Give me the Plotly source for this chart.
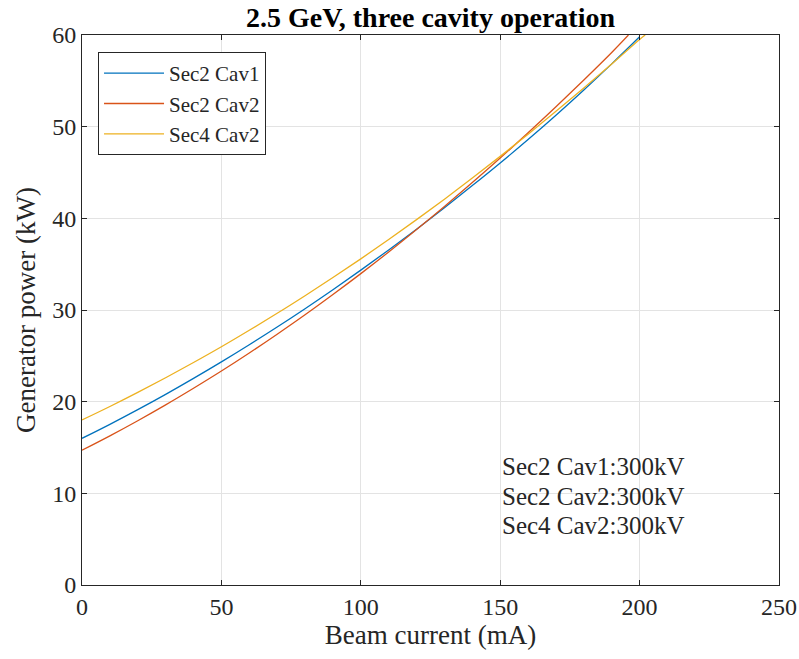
import plotly.graph_objects as go

# Beam current (mA) sample points and generator power (kW)
x_cav1 = [0, 10, 20, 30, 40, 50, 60, 70, 80, 90, 100, 110, 120, 130, 140, 150, 160, 170, 180, 190, 200]
p_s2c1 = [16.0, 17.53, 19.13, 20.80, 22.54, 24.34, 26.21, 28.14, 30.14, 32.21, 34.35, 36.55, 38.82, 41.16,
          43.57, 46.04, 48.6, 51.25, 54.0, 56.85, 59.8]

x_cav2 = [0, 10, 20, 30, 40, 50, 60, 70, 80, 90, 100, 110, 120, 130, 140, 150, 160, 170, 180, 190, 196]
p_s2c2 = [14.7, 16.27, 17.92, 19.65, 21.46, 23.34, 25.31, 27.36, 29.48, 31.69, 33.97, 36.33, 38.78, 41.30,
          43.90, 46.58, 49.34, 52.18, 55.10, 58.10, 60.0]

x_cav3 = [0, 10, 20, 30, 40, 50, 60, 70, 80, 90, 100, 110, 120, 130, 140, 150, 160, 170, 180, 190, 200, 202]
p_s4c2 = [18.0, 19.47, 21.01, 22.61, 24.27, 25.99, 27.79, 29.64, 31.56, 33.54, 35.58, 37.69, 39.86, 42.09,
          44.39, 46.76, 49.18, 51.67, 54.22, 56.84, 59.52, 60.0]

names = ["Sec2 Cav1", "Sec2 Cav2", "Sec4 Cav2"]
colors = ["#0072BD", "#D95319", "#EDB120"]
notes = ["Sec2 Cav1:300kV", "Sec2 Cav2:300kV", "Sec4 Cav2:300kV"]
note_y = [12.9, 9.7, 6.5]

FONT = "Liberation Serif, Times New Roman, serif"
AX = "#262626"

fig = go.Figure()
for xs, ys, nm, c in zip([x_cav1, x_cav2, x_cav3], [p_s2c1, p_s2c2, p_s4c2], names, colors):
    fig.add_trace(go.Scatter(x=xs, y=ys, mode="lines", name=nm,
                             line=dict(color=c, width=1.3, shape="spline")))

for t, yv in zip(notes, note_y):
    fig.add_annotation(x=150, y=yv, text=t, showarrow=False, xanchor="left", yanchor="middle",
                       font=dict(family=FONT, size=25, color=AX))

axis_common = dict(showline=True, linecolor=AX, linewidth=1, mirror="ticks", ticks="inside",
                   ticklen=5, tickcolor=AX, showgrid=True, gridcolor="#E3E3E3", gridwidth=1,
                   zeroline=False, automargin=False, tickfont=dict(family=FONT, size=24, color=AX))

fig.update_layout(
    width=799, height=659,
    margin=dict(l=82, r=20, t=35, b=74),
    paper_bgcolor="white", plot_bgcolor="white",
    title=dict(text="<b>2.5 GeV, three cavity operation</b>", x=0.5, xref="paper", xanchor="center",
               y=0.974, yref="container", yanchor="middle", automargin=False,
               font=dict(family=FONT, size=28, color="black")),
    xaxis=dict(range=[0, 250], tickvals=[0, 50, 100, 150, 200, 250],
               title=dict(text="Beam current (mA)", font=dict(family=FONT, size=27, color=AX), standoff=4),
               **axis_common),
    yaxis=dict(range=[0, 60], tickvals=[0, 10, 20, 30, 40, 50, 60],
               title=dict(text="Generator power (kW)", font=dict(family=FONT, size=27, color=AX), standoff=8),
               **axis_common),
    legend=dict(x=0.023, y=0.969, xanchor="left", yanchor="top", bordercolor=AX, borderwidth=1,
                bgcolor="white", font=dict(family=FONT, size=21, color=AX), itemwidth=60,
                tracegroupgap=0),
    showlegend=True,
)

fig.write_html("out.html")
